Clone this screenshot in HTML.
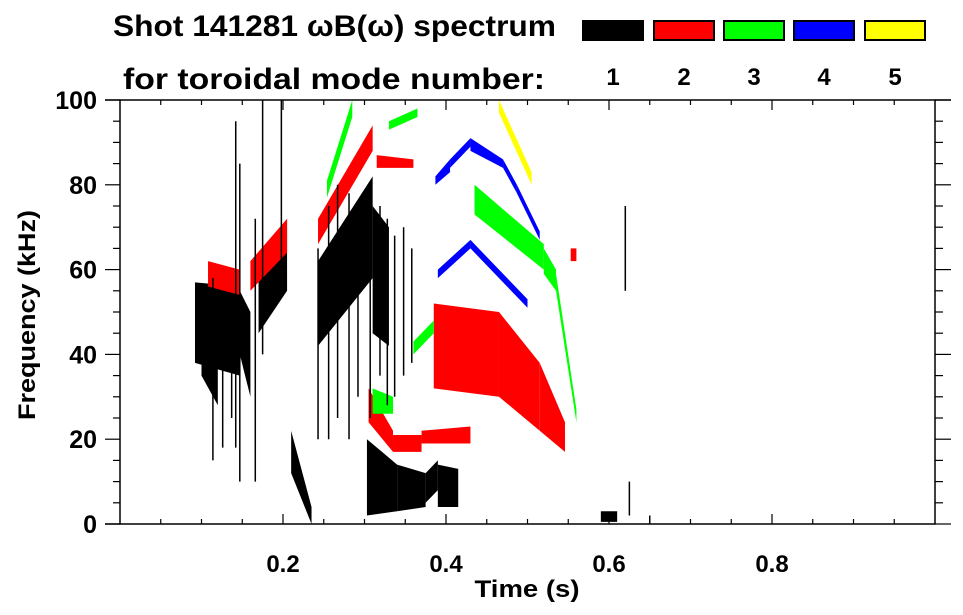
<!DOCTYPE html>
<html><head><meta charset="utf-8"><style>
html,body{margin:0;padding:0;background:#fff;}
svg{display:block;font-family:"Liberation Sans",sans-serif;font-weight:bold;}
</style></head><body>
<svg id="chart" width="963" height="615" viewBox="0 0 963 615" xmlns="http://www.w3.org/2000/svg">
<text x="113" y="36" font-size="30" textLength="443" lengthAdjust="spacingAndGlyphs">Shot 141281 ωB(ω) spectrum</text>
<text x="123" y="89" font-size="30" textLength="422" lengthAdjust="spacingAndGlyphs">for toroidal mode number:</text>
<g id="legend"></g>
<g id="marks"></g>
<g id="axes"></g>
<text transform="translate(35,315) rotate(-90)" text-anchor="middle" font-size="24" textLength="210" lengthAdjust="spacingAndGlyphs">Frequency (kHz)</text>
<text x="527" y="597" text-anchor="middle" font-size="24" textLength="105" lengthAdjust="spacingAndGlyphs">Time (s)</text>
</svg>
<script>
// data: bands [t0, lo0, hi0, t1, lo1, hi1] (time s, freq kHz)
const modeLabels = ["1","2","3","4","5"];
const modeColors = ["#000000","#ff0000","#00ff00","#0000ff","#ffff00"];
const bandsN1 = [[0.092,38,57,0.147,35,56],[0.147,40,55,0.16,30,50],[0.21,12,22,0.235,0,4],[0.243,42,62,0.31,58,82],[0.17,45,60,0.205,55,72],[0.303,2,20,0.34,3,14],[0.34,3,14,0.375,4,12],[0.375,5,12,0.39,8,15],[0.39,4,14,0.415,4,13],[0.59,0.5,3,0.61,0.5,3],[0.31,45,75,0.33,42,70],[0.1,35,45,0.12,28,40]];
const bandsN2 = [[0.108,56,62,0.147,54,60],[0.16,55,62,0.205,64,72],[0.243,66,72,0.31,88,94],[0.305,24,32,0.335,17,22],[0.335,17,21,0.37,17,21],[0.37,19,22,0.43,19,23],[0.385,32,52,0.465,30,50],[0.465,30,50,0.515,22,38],[0.515,22,38,0.546,17,24],[0.315,84,87,0.36,84,86],[0.553,62,65,0.56,62,65]];
const bandsN3 = [[0.254,77,81,0.285,96,100],[0.33,93,95,0.365,96,98],[0.36,40,43,0.385,45,48],[0.435,73,80,0.52,60,66],[0.52,59,65,0.535,55,60],[0.535,55,59,0.56,24,27],[0.31,26,32,0.335,26,30]];
const bandsN4 = [[0.387,80,82,0.405,83,86],[0.405,84,86,0.43,89,91],[0.43,88,91,0.47,84,86],[0.47,84,86,0.487,78,80],[0.487,78,80,0.515,67,69],[0.39,58,60,0.43,65,67],[0.43,65,67,0.5,51,53]];
const bandsN5 = [[0.465,97,100,0.505,80,83]];
// streaks [t, lo, hi] for mode 1
const streaksN1 = [[0.114,15,58],[0.126,18,55],[0.137,25,50],[0.142,18,95],[0.147,10,85],[0.166,10,72],[0.175,40,100],[0.198,60,100],[0.243,20,65],[0.256,20,75],[0.267,25,80],[0.281,20,78],[0.292,30,75],[0.307,25,80],[0.319,35,75],[0.328,28,72],[0.337,30,68],[0.348,35,70],[0.358,38,65],[0.62,55,75],[0.625,2,10],[0.65,0,2]];
const xTicks = [0.2,0.4,0.6,0.8];
const yTicks = [0,20,40,60,80,100];

const NS="http://www.w3.org/2000/svg";
const L=120,R=935,T=100,B=524;
const xs=t=>L+t*(R-L);
const ys=f=>B-f/100*(B-T);
function mk(tag,attrs,parent){const e=document.createElementNS(NS,tag);for(const k in attrs)e.setAttribute(k,attrs[k]);parent.appendChild(e);return e;}
const marks=document.getElementById('marks'),axes=document.getElementById('axes'),legend=document.getElementById('legend');
const allBands=[bandsN1,bandsN2,bandsN3,bandsN4,bandsN5];
allBands.forEach((bs,m)=>{bs.forEach(b=>{
 const p=mk('polygon',{points:`${xs(b[0])},${ys(b[1])} ${xs(b[0])},${ys(b[2])} ${xs(b[3])},${ys(b[5])} ${xs(b[3])},${ys(b[4])}`,fill:modeColors[m]},marks);
 
 
});});
streaksN1.forEach(s=>{
 const l=mk('line',{x1:xs(s[0]),x2:xs(s[0]),y1:ys(s[1]),y2:ys(s[2]),stroke:'#000','stroke-width':1.5},marks);
 
 
});
const fr=mk('rect',{x:L,y:T,width:R-L,height:B-T,fill:'none',stroke:'#000','stroke-width':1.5},axes);


mk('line',{x1:105,x2:L,y1:T,y2:T,stroke:'#000','stroke-width':1.5},axes);
mk('line',{x1:105,x2:L,y1:B,y2:B,stroke:'#000','stroke-width':1.5},axes);
mk('line',{x1:R,x2:951,y1:T,y2:T,stroke:'#000','stroke-width':1.5},axes);
for(let f=0;f<=100;f+=5){const maj=f%20===0;
 mk('line',{x1:maj?105:113,x2:L,y1:ys(f),y2:ys(f),stroke:'#000','stroke-width':1.2},axes);
 mk('line',{x1:R,x2:maj?951:943,y1:ys(f),y2:ys(f),stroke:'#000','stroke-width':1.2},axes);}
for(let i=1;i<20;i++){const t=i*0.05,maj=i%4===0;
 mk('line',{x1:xs(t),x2:xs(t),y1:B,y2:B-(maj?10:5),stroke:'#000','stroke-width':1.2},axes);
 mk('line',{x1:xs(t),x2:xs(t),y1:T,y2:T+(maj?10:5),stroke:'#000','stroke-width':1.2},axes);}
yTicks.forEach(v=>{const t=mk('text',{x:97,y:ys(v)+9,'text-anchor':'end','font-size':25},axes);t.textContent=v;
 
 });
xTicks.forEach(v=>{const t=mk('text',{x:xs(v),y:572,'text-anchor':'middle','font-size':24},axes);t.textContent=v.toFixed(1);
 
 });
const lx=[582,653,723,793,864];
modeLabels.forEach((lab,i)=>{
 const r=mk('rect',{x:lx[i]+1,y:21,width:60,height:19,fill:modeColors[i],stroke:'#000','stroke-width':2},legend);
 
 
 const t=mk('text',{x:lx[i]+31,y:85,'text-anchor':'middle','font-size':24},legend);t.textContent=lab;
 
 
});
</script>
</body></html>
